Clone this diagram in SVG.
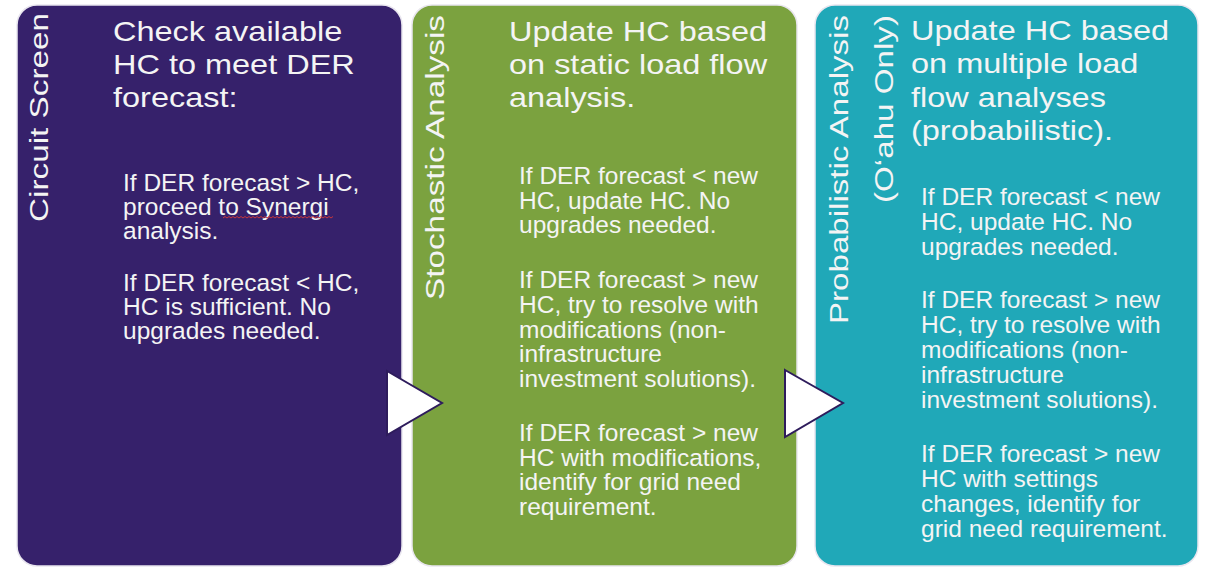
<svg xmlns="http://www.w3.org/2000/svg" width="1205" height="567" viewBox="0 0 1205 567">
  <style>
    .box { stroke: #e9e6ef; stroke-width: 1.5; }
    .purple { fill: #36216b; }
    .green { fill: #7ba23f; }
    .teal { fill: #20a8b8; }
    text { font-family: "Liberation Sans", Arial, sans-serif; fill: #f4f4f4; }
    .title { font-size: 28px; }
    .body { font-size: 24.5px; }
    .vert { font-size: 26px; }
    .arrow { fill: #ffffff; stroke: #2e1c5c; stroke-width: 2; stroke-linejoin: miter; }
  </style>
  <rect width="1205" height="567" fill="#ffffff"/>

  <g id="node-circuit-screen">
    <rect class="box purple" x="17" y="5" width="385" height="561" rx="20"/>
    <text class="vert" transform="translate(48,222) rotate(-90)" x="0" y="0" textLength="209" lengthAdjust="spacingAndGlyphs">Circuit Screen</text>
    <text class="title" transform="translate(113,0) scale(1.16,1)">
      <tspan x="0" y="41">Check available</tspan>
      <tspan x="0" y="74">HC to meet DER</tspan>
      <tspan x="0" y="107">forecast:</tspan>
    </text>
    <text class="body">
      <tspan x="123" y="191">If DER forecast &gt; HC,</tspan>
      <tspan x="123" y="215">proceed to Synergi</tspan>
      <tspan x="123" y="239">analysis.</tspan>
      <tspan x="123" y="291">If DER forecast &lt; HC,</tspan>
      <tspan x="123" y="315">HC is sufficient. No</tspan>
      <tspan x="123" y="339">upgrades needed.</tspan>
    </text>
    <path d="M223 218 l2 -1.5 l2 1.5 l2 -1.5 l2 1.5 l2 -1.5 l2 1.5 l2 -1.5 l2 1.5 l2 -1.5 l2 1.5 l2 -1.5 l2 1.5 l2 -1.5 l2 1.5 l2 -1.5 l2 1.5 l2 -1.5 l2 1.5 l2 -1.5 l2 1.5 l2 -1.5 l2 1.5 l2 -1.5 l2 1.5 l2 -1.5 l2 1.5 l2 -1.5 l2 1.5 l2 -1.5 l2 1.5 l2 -1.5 l2 1.5 l2 -1.5 l2 1.5 l2 -1.5 l2 1.5 l2 -1.5 l2 1.5 l2 -1.5 l2 1.5 l2 -1.5 l2 1.5 l2 -1.5 l2 1.5 l2 -1.5 l2 1.5 l2 -1.5 l2 1.5 l2 -1.5 l2 1.5 l2 -1.5 l2 1.5 l2 -1.5 l2 1.5 l2 -1.5" fill="none" stroke="#c8373b" stroke-width="1"/>
  </g>

  <g id="node-stochastic-analysis">
    <rect class="box green" x="412" y="5" width="385" height="561" rx="20"/>
    <text class="vert" transform="translate(444,300) rotate(-90)" x="0" y="0" textLength="285" lengthAdjust="spacingAndGlyphs">Stochastic Analysis</text>
    <text class="title" transform="translate(509,0) scale(1.16,1)">
      <tspan x="0" y="41">Update HC based</tspan>
      <tspan x="0" y="74">on static load flow</tspan>
      <tspan x="0" y="107">analysis.</tspan>
    </text>
    <text class="body">
      <tspan x="519" y="184">If DER forecast &lt; new</tspan>
      <tspan x="519" y="209">HC, update HC. No</tspan>
      <tspan x="519" y="233">upgrades needed.</tspan>
      <tspan x="519" y="288">If DER forecast &gt; new</tspan>
      <tspan x="519" y="313">HC, try to resolve with</tspan>
      <tspan x="519" y="338">modifications (non-</tspan>
      <tspan x="519" y="362">infrastructure</tspan>
      <tspan x="519" y="387">investment solutions).</tspan>
      <tspan x="519" y="441">If DER forecast &gt; new</tspan>
      <tspan x="519" y="466">HC with modifications,</tspan>
      <tspan x="519" y="490">identify for grid need</tspan>
      <tspan x="519" y="515">requirement.</tspan>
    </text>
  </g>

  <g id="node-probabilistic-analysis">
    <rect class="box teal" x="815" y="5" width="383" height="561" rx="20"/>
    <text class="vert" transform="translate(848,324) rotate(-90)" x="0" y="0" textLength="309" lengthAdjust="spacingAndGlyphs">Probabilistic Analysis</text>
    <text class="vert" transform="translate(893,203) rotate(-90)" x="0" y="0" textLength="188" lengthAdjust="spacingAndGlyphs">(O‘ahu Only)</text>
    <text class="title" transform="translate(911,0) scale(1.16,1)">
      <tspan x="0" y="40">Update HC based</tspan>
      <tspan x="0" y="73">on multiple load</tspan>
      <tspan x="0" y="107">flow analyses</tspan>
      <tspan x="0" y="140">(probabilistic).</tspan>
    </text>
    <text class="body">
      <tspan x="921" y="205">If DER forecast &lt; new</tspan>
      <tspan x="921" y="230">HC, update HC. No</tspan>
      <tspan x="921" y="255">upgrades needed.</tspan>
      <tspan x="921" y="308">If DER forecast &gt; new</tspan>
      <tspan x="921" y="333">HC, try to resolve with</tspan>
      <tspan x="921" y="358">modifications (non-</tspan>
      <tspan x="921" y="383">infrastructure</tspan>
      <tspan x="921" y="408">investment solutions).</tspan>
      <tspan x="921" y="462">If DER forecast &gt; new</tspan>
      <tspan x="921" y="487">HC with settings</tspan>
      <tspan x="921" y="512">changes, identify for</tspan>
      <tspan x="921" y="537">grid need requirement.</tspan>
    </text>
  </g>

  <g id="connectors">
    <polygon class="arrow" points="387,371 442,403 387,435"/>
    <polygon class="arrow" points="785,370 843,403 785,437"/>
  </g>
</svg>
